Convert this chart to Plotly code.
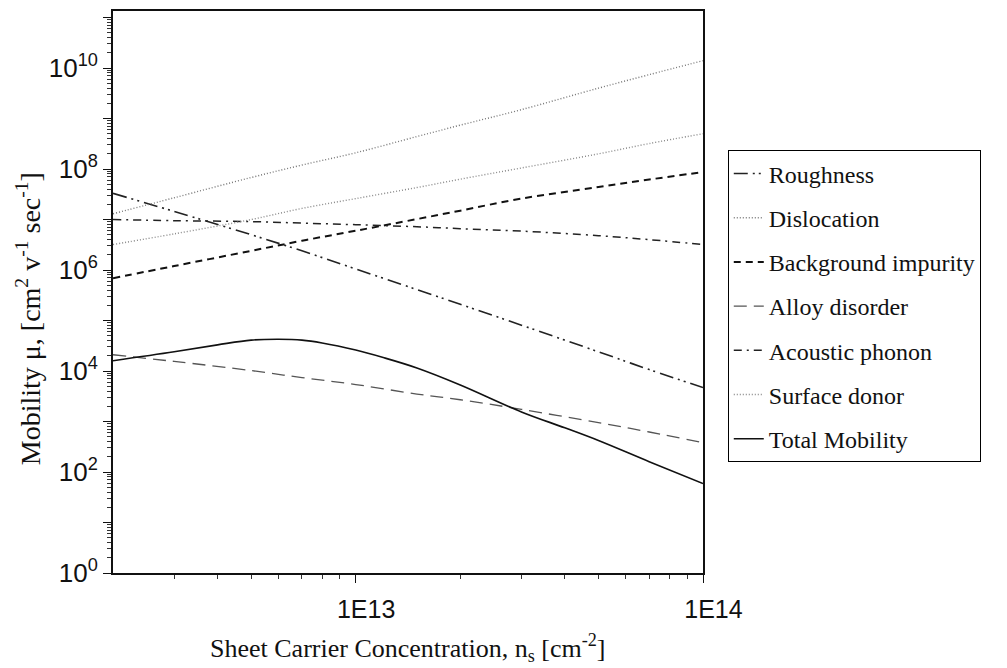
import plotly.graph_objects as go

# Sheet carrier concentration (cm^-2)
ns = [2e12, 3e12, 5e12, 7e12, 1e13, 1.5e13, 2e13, 3e13, 5e13, 7e13, 1e14]

roughness = [3.3e7, 1.45e7, 5.0e6, 2.4e6, 1.05e6, 4.1e5, 2.1e5, 8.1e4, 2.4e4, 1.07e4, 4.7e3]
dislocation = [1.3e7, 2.7e7, 6.8e7, 1.2e8, 2.1e8, 4.4e8, 7.4e8, 1.5e9, 4.0e9, 7.4e9, 1.4e10]
background = [6.9e5, 1.2e6, 2.4e6, 3.8e6, 6.0e6, 1.02e7, 1.5e7, 2.6e7, 4.4e7, 6.2e7, 8.7e7]
alloy = [2.1e4, 1.55e4, 1.02e4, 7.4e3, 5.4e3, 3.5e3, 2.7e3, 1.74e3, 9.5e2, 6.2e2, 3.8e2]
acoustic = [1.0e7, 9.5e6, 9.1e6, 8.5e6, 7.9e6, 7.2e6, 6.6e6, 5.9e6, 4.8e6, 4.0e6, 3.2e6]
surface = [3.2e6, 5.2e6, 1.0e7, 1.66e7, 2.6e7, 4.3e7, 6.3e7, 1.05e8, 2.0e8, 3.2e8, 5.0e8]

ns_total = [2e12, 3e12, 4e12, 5e12, 6e12, 7e12, 8e12, 1e13, 1.2e13, 1.5e13, 2e13, 3e13, 4e13, 5e13, 7e13, 1e14]
total = [1.6e4, 2.4e4, 3.3e4, 4.1e4, 4.25e4, 4.1e4, 3.6e4, 2.6e4, 1.85e4, 1.15e4, 5.3e3, 1.55e3, 7.5e2, 4.2e2, 1.6e2, 59]

x_tick_vals = [1e13, 1e14]
x_tick_text = ["1E13", "1E14"]
y_exponents = list(range(0, 12))

serif = "Liberation Serif"
sans = "Liberation Sans"

series = [
    ("Roughness", ns, roughness, dict(color="#222", width=1.6, dash="14px,5px,2px,4px,2px,5px")),
    ("Dislocation", ns, dislocation, dict(color="#777", width=1.4, dash="1px,2px")),
    ("Background impurity", ns, background, dict(color="#111", width=2.0, dash="7px,5px")),
    ("Alloy disorder", ns, alloy, dict(color="#555", width=1.3, dash="13px,7px")),
    ("Acoustic phonon", ns, acoustic, dict(color="#222", width=1.5, dash="8px,5px,2px,5px")),
    ("Surface donor", ns, surface, dict(color="#888", width=1.4, dash="1px,2px")),
    ("Total Mobility", ns_total, total, dict(color="#111", width=1.6, dash="solid")),
]

fig = go.Figure()
for i, (name, xs, ys, line) in enumerate(series):
    fig.add_trace(go.Scatter(x=xs, y=ys, mode="lines", name=name, line=line,
                             legendgroup=f"g{i}", line_shape="spline"))

y_tick_vals = [10 ** k for k in y_exponents]
y_tick_text = [f"10<sup>{k}</sup>" if k % 2 == 0 else "" for k in y_exponents]
y_minor = [m * 10 ** k for k in range(0, 11) for m in range(2, 10)]
x_minor = [m * 1e12 for m in range(3, 10)] + [m * 1e13 for m in range(2, 10)]

fig.update_layout(
    width=1007, height=668,
    margin=dict(l=113, r=304, t=9, b=95),
    paper_bgcolor="white", plot_bgcolor="white",
    showlegend=True,
    legend=dict(x=1.042, y=0.752, xanchor="left", yanchor="top",
                bordercolor="black", borderwidth=1,
                font=dict(family=serif, size=24, color="#111"),
                tracegroupgap=10, traceorder="grouped"),
    font=dict(family=sans, color="#111"),
)

fig.update_xaxes(
    type="log", range=[12.301, 14],
    tickmode="array", tickvals=x_tick_vals,
    ticktext=["&nbsp;&nbsp;&nbsp;" + t for t in x_tick_text],
    ticks="outside", ticklen=8, tickwidth=1.3, tickcolor="#111",
    minor=dict(tickmode="array", tickvals=x_minor, ticks="outside", ticklen=4, tickwidth=1, tickcolor="#333"),
    showline=True, linecolor="#111", linewidth=1.8, mirror=True,
    showgrid=False, zeroline=False,
    tickfont=dict(family=sans, size=25, color="#111"),
    ticklabelstandoff=5,
)

fig.update_yaxes(
    type="log", range=[0, 11.13],
    tickmode="array", tickvals=y_tick_vals, ticktext=y_tick_text,
    ticks="outside", ticklen=8, tickwidth=1.3, tickcolor="#111",
    minor=dict(tickmode="array", tickvals=y_minor, ticks="outside", ticklen=4, tickwidth=1, tickcolor="#333"),
    showline=True, linecolor="#111", linewidth=1.8, mirror=True,
    showgrid=False, zeroline=False,
    tickfont=dict(family=sans, size=26, color="#111"),
)

fig.add_annotation(
    text="Mobility \u03bc, [cm<sup>2</sup> v<sup>-1</sup> sec<sup>-1</sup>]",
    xref="paper", yref="paper", x=-0.142, y=0.452,
    xanchor="center", yanchor="middle", textangle=-90, showarrow=False,
    font=dict(family=serif, size=28, color="#111"),
)
fig.add_annotation(
    text="Sheet Carrier Concentration, n<sub>s</sub> [cm<sup>-2</sup>]",
    xref="paper", yref="paper", x=0.5, y=-0.133,
    xanchor="center", yanchor="middle", showarrow=False,
    font=dict(family=serif, size=26, color="#111"),
)

fig.write_html("out.html")
